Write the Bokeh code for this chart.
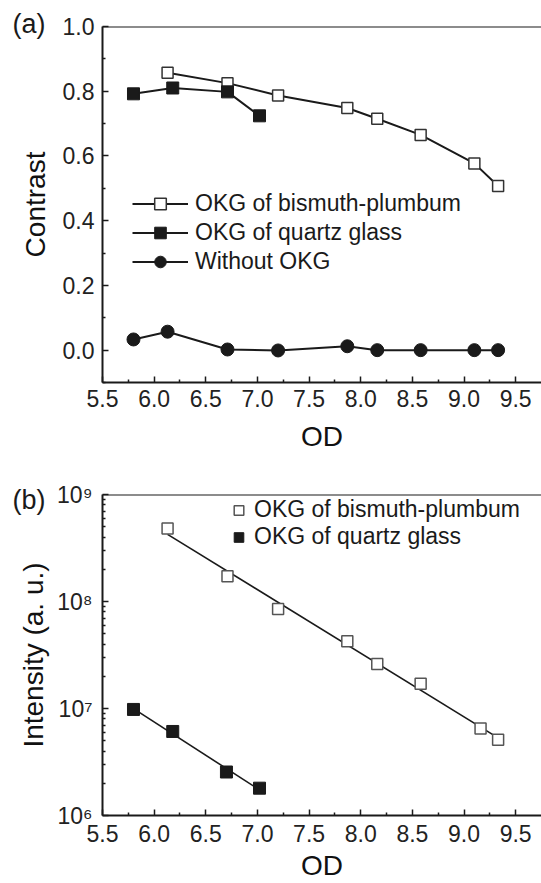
import numpy as np
from bokeh.plotting import figure
from bokeh.layouts import column
from bokeh.models import (FixedTicker, Span, Legend, LegendItem,
                          CustomJSTickFormatter, NumeralTickFormatter, Range1d)
from bokeh.embed import file_html
from bokeh.resources import INLINE

FONT = "Liberation Sans"
INK = "#1a1a1a"

# ---------------- panel (a): contrast vs OD ----------------
od_bp = [6.13, 6.71, 7.20, 7.87, 8.16, 8.58, 9.10, 9.33]
contrast_bp = [0.857, 0.825, 0.787, 0.748, 0.715, 0.665, 0.577, 0.507]
od_qg = [5.80, 6.18, 6.71, 7.02]
contrast_qg = [0.792, 0.810, 0.798, 0.724]
od_none = [5.80, 6.13, 6.71, 7.20, 7.87, 8.16, 8.58, 9.10, 9.33]
contrast_none = [0.033, 0.057, 0.002, -0.001, 0.012, 0.0, 0.0, 0.0, 0.0]

# ---------------- panel (b): intensity vs OD ----------------
od_bp_b = [6.13, 6.71, 7.20, 7.87, 8.16, 8.58, 9.16, 9.33]
int_bp = [4.8e8, 1.72e8, 8.5e7, 4.25e7, 2.6e7, 1.7e7, 6.5e6, 5.1e6]
od_qg_b = [5.80, 6.18, 6.70, 7.02]
int_qg = [9.8e6, 6.1e6, 2.55e6, 1.8e6]

x_ticks = [5.5, 6.0, 6.5, 7.0, 7.5, 8.0, 8.5, 9.0, 9.5]
x_minor = [5.75, 6.25, 6.75, 7.25, 7.75, 8.25, 8.75, 9.25]
ya_ticks = [0.0, 0.2, 0.4, 0.6, 0.8, 1.0]
ya_minor = [-0.1, 0.1, 0.3, 0.5, 0.7, 0.9]
yb_ticks = [1e6, 1e7, 1e8, 1e9]
yb_minor = [k * 10.0 ** n for n in (6, 7, 8) for k in range(2, 10)]

labels_a = ["OKG of bismuth-plumbum", "OKG of quartz glass", "Without OKG"]
labels_b = ["OKG of bismuth-plumbum", "OKG of quartz glass"]
panel_tags = ["(a)", "(b)"]


def style_axis(ax, tick_size="23px", standoff=8, label_standoff=8):
    ax.axis_line_width = 2
    ax.axis_line_color = INK
    ax.major_tick_in = 6
    ax.major_tick_out = 0
    ax.minor_tick_in = 3
    ax.minor_tick_out = 0
    ax.major_tick_line_width = 1.5
    ax.minor_tick_line_width = 1.5
    ax.major_tick_line_color = INK
    ax.minor_tick_line_color = INK
    ax.major_label_text_font = FONT
    ax.major_label_text_font_size = tick_size
    ax.major_label_text_color = "#222222"
    ax.major_label_standoff = standoff
    ax.axis_label_text_font = FONT
    ax.axis_label_text_font_size = "28px"
    ax.axis_label_text_font_style = "normal"
    ax.axis_label_text_color = "#111111"
    ax.axis_label_standoff = label_standoff


def panel_title(p, tag, standoff):
    p.title.text = tag
    p.title.align = "left"
    p.title.offset = -90
    p.title.standoff = standoff
    p.title.text_font = FONT
    p.title.text_font_size = "27px"
    p.title.text_font_style = "normal"
    p.title.text_color = INK


# ================= figure (a) =================
p1 = figure(width=541, height=454, x_range=Range1d(5.5, 9.75), y_range=Range1d(-0.1, 1.0),
            output_backend="svg", toolbar_location=None,
            min_border_left=102, min_border_right=0, min_border_top=26, min_border_bottom=71)
p1.outline_line_color = None
p1.grid.visible = False
panel_title(p1, panel_tags[0], -25)

p1.xaxis.ticker = FixedTicker(ticks=x_ticks, minor_ticks=x_minor)
p1.xaxis.formatter = NumeralTickFormatter(format="0.0")
p1.yaxis.ticker = FixedTicker(ticks=ya_ticks, minor_ticks=ya_minor)
p1.yaxis.formatter = NumeralTickFormatter(format="0.0")
p1.xaxis.axis_label = "OD"
p1.yaxis.axis_label = "Contrast"
style_axis(p1.xaxis[0], standoff=7, label_standoff=11)
style_axis(p1.yaxis[0], standoff=8, label_standoff=9)
p1.add_layout(Span(location=1.0, dimension="width", line_color=INK, line_width=2))

l_bp = p1.line(od_bp, contrast_bp, line_width=2, line_color=INK)
s_bp = p1.scatter(od_bp, contrast_bp, marker="square", size=11, fill_color="white",
                  line_color="#333333", line_width=1.5)
l_qg = p1.line(od_qg, contrast_qg, line_width=2, line_color=INK)
s_qg = p1.scatter(od_qg, contrast_qg, marker="square", size=12, fill_color=INK,
                  line_color=INK, line_width=1)
l_no = p1.line(od_none, contrast_none, line_width=2, line_color=INK)
s_no = p1.scatter(od_none, contrast_none, marker="circle", size=13, fill_color=INK,
                  line_color=INK, line_width=1)

leg1 = Legend(items=[LegendItem(label=labels_a[0], renderers=[l_bp, s_bp]),
                     LegendItem(label=labels_a[1], renderers=[l_qg, s_qg]),
                     LegendItem(label=labels_a[2], renderers=[l_no, s_no])],
              location=(30, 106), glyph_width=56, glyph_height=29, label_height=29,
              spacing=0, padding=0, margin=0, label_standoff=7,
              border_line_color=None, background_fill_alpha=0,
              label_text_font=FONT, label_text_font_size="23px", label_text_color=INK)
p1.add_layout(leg1)

# ================= figure (b) =================
p2 = figure(width=541, height=429, x_range=Range1d(5.5, 9.75), y_range=Range1d(1e6, 1e9),
            y_axis_type="log", output_backend="svg", toolbar_location=None,
            min_border_left=102, min_border_right=0, min_border_top=40, min_border_bottom=68)
p2.outline_line_color = None
p2.grid.visible = False
panel_title(p2, panel_tags[1], -41)

p2.xaxis.ticker = FixedTicker(ticks=x_ticks, minor_ticks=x_minor)
p2.xaxis.formatter = NumeralTickFormatter(format="0.0")
p2.yaxis.ticker = FixedTicker(ticks=yb_ticks, minor_ticks=yb_minor)
p2.yaxis.formatter = CustomJSTickFormatter(code="""
const sup = {"0":"\u2070","1":"\u00b9","2":"\u00b2","3":"\u00b3","4":"\u2074",
             "5":"\u2075","6":"\u2076","7":"\u2077","8":"\u2078","9":"\u2079","-":"\u207b"};
const e = Math.round(Math.log10(tick));
return "10" + String(e).split("").map(c => sup[c]).join("");
""")
p2.xaxis.axis_label = "OD"
p2.yaxis.axis_label = "Intensity (a. u.)"
style_axis(p2.xaxis[0], standoff=9, label_standoff=5)
style_axis(p2.yaxis[0], tick_size="23px", standoff=10, label_standoff=5)
p2.add_layout(Span(location=1e9, dimension="width", line_color=INK, line_width=2))

# linear fits of log10(intensity) vs OD
for xs, ys in [(od_bp_b, int_bp), (od_qg_b, int_qg)]:
    xa = np.array(xs)
    k, b = np.polyfit(xa, np.log10(ys), 1)
    xf = np.array([xa.min(), xa.max()])
    p2.line(xf, 10 ** (k * xf + b), line_width=1.6, line_color=INK)

sb_bp = p2.scatter(od_bp_b, int_bp, marker="square", size=11, fill_color="white",
                   line_color="#555555", line_width=1.5)
sb_qg = p2.scatter(od_qg_b, int_qg, marker="square", size=12, fill_color=INK,
                   line_color=INK, line_width=1)

leg2 = Legend(items=[LegendItem(label=labels_b[0], renderers=[sb_bp]),
                     LegendItem(label=labels_b[1], renderers=[sb_qg])],
              location=(124, 265), glyph_width=25, glyph_height=24, label_height=24,
              spacing=0, padding=0, margin=0, label_standoff=3,
              border_line_color=None, background_fill_alpha=0,
              label_text_font=FONT, label_text_font_size="23px", label_text_color=INK)
p2.add_layout(leg2)

layout = column(p1, p2)
open("out.html", "w").write(file_html(layout, INLINE))
